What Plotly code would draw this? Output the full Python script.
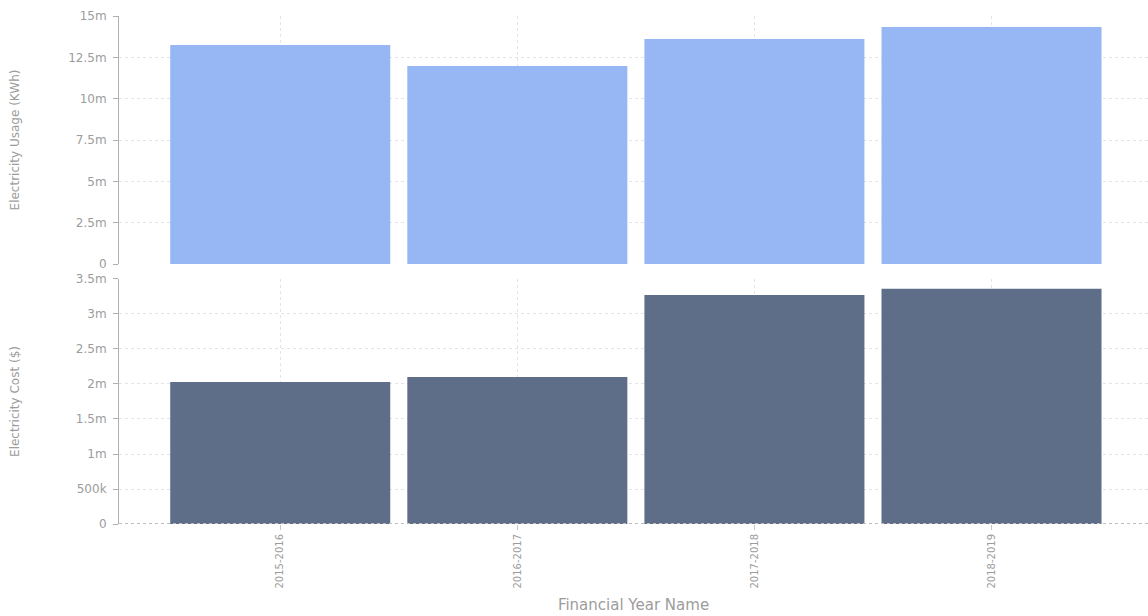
import plotly.graph_objects as go
from plotly.subplots import make_subplots

years = ["2015-2016", "2016-2017", "2017-2018", "2018-2019"]
usage_kwh = [13.25e6, 11.98e6, 13.61e6, 14.34e6]
cost_usd = [2.03e6, 2.10e6, 3.27e6, 3.36e6]

usage_ticks = [0, 2.5e6, 5e6, 7.5e6, 10e6, 12.5e6, 15e6]
usage_ticktext = ["0", "2.5m", "5m", "7.5m", "10m", "12.5m", "15m"]
cost_ticks = [0, 0.5e6, 1e6, 1.5e6, 2e6, 2.5e6, 3e6, 3.5e6]
cost_ticktext = ["0", "500k", "1m", "1.5m", "2m", "2.5m", "3m", "3.5m"]

fig = make_subplots(rows=2, cols=1, shared_xaxes=True, vertical_spacing=0.03)
fig.add_trace(go.Bar(x=years, y=usage_kwh, marker=dict(color="#97b7f4", line=dict(width=0)),
                     showlegend=False), row=1, col=1)
fig.add_trace(go.Bar(x=years, y=cost_usd, marker=dict(color="#5e6e89", line=dict(width=0)),
                     showlegend=False), row=2, col=1)

font_col = "#9c9c9c"
grid_col = "#e4e4e4"
fam = "DejaVu Sans, Verdana, sans-serif"
common_y = dict(showline=True, linecolor="#b0b0b0", linewidth=1, ticks="outside", ticklen=5,
                tickcolor="#b0b0b0", showgrid=True, gridcolor=grid_col, griddash="dot",
                zeroline=False, tickfont=dict(size=12, color=font_col, family=fam),
                ticklabelstandoff=4, automargin=False)

fig.update_layout(
    width=1148, height=616,
    margin=dict(l=119, r=0, t=16, b=92),
    paper_bgcolor="white", plot_bgcolor="white",
    font=dict(family=fam, color=font_col),
    bargap=0.072,
    yaxis=dict(domain=[0.5118, 1.0], range=[0, 15e6], tickvals=usage_ticks, ticktext=usage_ticktext,
               title=dict(text="Electricity Usage (KWh)", font=dict(size=12, color=font_col, family=fam),
                          standoff=45),
               **common_y),
    yaxis2=dict(domain=[0.0, 0.4823], range=[0, 3.5e6], tickvals=cost_ticks, ticktext=cost_ticktext,
                title=dict(text="Electricity Cost ($)", font=dict(size=12, color=font_col, family=fam),
                           standoff=53),
                **common_y),
    xaxis=dict(range=[-0.68, 3.66], showgrid=True, gridcolor=grid_col, griddash="dot",
               showline=False, ticks="", showticklabels=False),
    xaxis2=dict(range=[-0.68, 3.66], showgrid=True, gridcolor=grid_col, griddash="dot",
                showline=False, ticks="outside", ticklen=5,
                tickcolor="#c8c8c8", tickangle=-90, tickfont=dict(size=10, color=font_col, family=fam),
                title=dict(text="Financial Year Name", font=dict(size=15, color=font_col, family=fam),
                           standoff=11),
                automargin=False),
    shapes=[dict(type="line", xref="x2 domain", yref="y2", x0=0, x1=1, y0=0, y1=0,
                 line=dict(color="#bdbdbd", width=2, dash="dot"), layer="above")],
)

fig.write_html("out.html")
